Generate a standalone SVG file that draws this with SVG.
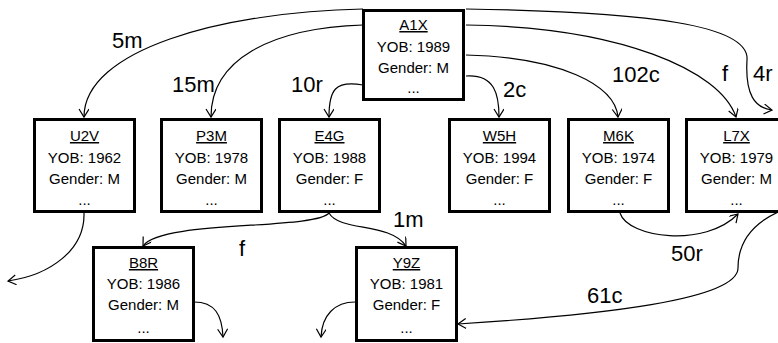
<svg xmlns="http://www.w3.org/2000/svg" width="778" height="343" viewBox="0 0 778 343">
<style>
.box{fill:#fff;stroke:#000;stroke-width:3}
.t{font-family:"Liberation Sans",Arial,sans-serif;font-size:15px;fill:#000;text-anchor:middle}
.n{text-decoration:underline}
.e{fill:none;stroke:#000;stroke-width:1.2;marker-end:url(#ah)}
.l{font-family:"Liberation Sans",Arial,sans-serif;font-size:22px;fill:#000}
</style>
<defs>
<marker id="ah" markerWidth="12" markerHeight="12" refX="9" refY="5" orient="auto" markerUnits="userSpaceOnUse">
<path d="M1,0 L9,5 L1,10" fill="none" stroke="#000" stroke-width="1.2"/>
</marker>
</defs>
<rect width="778" height="343" fill="#fff"/>
<g id="connectors">
<path class="e" d="M363,9 C220,12 84,50 84,117"/>
<path class="e" d="M363,25 C270,28 211,60 211,117"/>
<path class="e" d="M363,85 C335,80 329,90 329,117"/>
<path class="e" d="M466,76 C495,74 499,95 499,117"/>
<path class="e" d="M466,55 C560,57 615,85 618,117"/>
<path class="e" d="M466,25 C620,27 720,70 736,117"/>
<path class="e" d="M466,9 C650,12 750,25 747,60 C745,95 755,108 772,110"/>
<path class="e" d="M329,213 C315,230 160,220 143,246"/>
<path class="e" d="M329,213 C340,232 390,222 406,246"/>
<path class="e" d="M84,213 C85,250 50,275 8,281"/>
<path class="e" d="M194,302 C215,302 222,315 223,337"/>
<path class="e" d="M355,302 C335,302 322,315 321,337"/>
<path class="e" d="M620,213 C628,238 705,248 738,214"/>
<path class="e" d="M778,212 C750,225 738,245 738,268 C738,300 600,315 458,324"/>
</g>
<g id="labels">
<text class="l" x="112" y="48">5m</text>
<text class="l" x="172" y="92">15m</text>
<text class="l" x="291" y="92">10r</text>
<text class="l" x="503" y="97">2c</text>
<text class="l" x="612" y="82">102c</text>
<text class="l" x="722" y="81">f</text>
<text class="l" x="753" y="81">4r</text>
<text class="l" x="239" y="256">f</text>
<text class="l" x="393" y="227">1m</text>
<text class="l" x="671" y="261">50r</text>
<text class="l" x="587" y="303">61c</text>
</g>
<g id="A1X">
<rect class="box" x="363.5" y="10.5" width="100" height="89"/>
<text class="t n" x="413.5" y="30">A1X</text>
<text class="t" x="413.5" y="52">YOB: 1989</text>
<text class="t" x="413.5" y="73">Gender: M</text>
<text class="t" x="413.5" y="93">...</text>
</g>
<g id="U2V">
<rect class="box" x="34.5" y="119.5" width="100" height="92"/>
<text class="t n" x="84.5" y="141">U2V</text>
<text class="t" x="84.5" y="163">YOB: 1962</text>
<text class="t" x="84.5" y="184">Gender: M</text>
<text class="t" x="84.5" y="205">...</text>
</g>
<g id="P3M">
<rect class="box" x="161.5" y="119.5" width="100" height="92"/>
<text class="t n" x="211.5" y="141">P3M</text>
<text class="t" x="211.5" y="163">YOB: 1978</text>
<text class="t" x="211.5" y="184">Gender: M</text>
<text class="t" x="211.5" y="205">...</text>
</g>
<g id="E4G">
<rect class="box" x="279.5" y="119.5" width="100" height="92"/>
<text class="t n" x="329.5" y="141">E4G</text>
<text class="t" x="329.5" y="163">YOB: 1988</text>
<text class="t" x="329.5" y="184">Gender: F</text>
<text class="t" x="329.5" y="205">...</text>
</g>
<g id="W5H">
<rect class="box" x="449.5" y="119.5" width="100" height="92"/>
<text class="t n" x="499.5" y="141">W5H</text>
<text class="t" x="499.5" y="163">YOB: 1994</text>
<text class="t" x="499.5" y="184">Gender: F</text>
<text class="t" x="499.5" y="205">...</text>
</g>
<g id="M6K">
<rect class="box" x="568.5" y="119.5" width="100" height="92"/>
<text class="t n" x="618.5" y="141">M6K</text>
<text class="t" x="618.5" y="163">YOB: 1974</text>
<text class="t" x="618.5" y="184">Gender: F</text>
<text class="t" x="618.5" y="205">...</text>
</g>
<g id="L7X">
<rect class="box" x="686.5" y="119.5" width="100" height="92"/>
<text class="t n" x="736.5" y="141">L7X</text>
<text class="t" x="736.5" y="163">YOB: 1979</text>
<text class="t" x="736.5" y="184">Gender: M</text>
<text class="t" x="736.5" y="205">...</text>
</g>
<g id="B8R">
<rect class="box" x="93.5" y="247.5" width="100" height="93"/>
<text class="t n" x="143.5" y="268">B8R</text>
<text class="t" x="143.5" y="289">YOB: 1986</text>
<text class="t" x="143.5" y="310">Gender: M</text>
<text class="t" x="143.5" y="333">...</text>
</g>
<g id="Y9Z">
<rect class="box" x="356.5" y="247.5" width="100" height="93"/>
<text class="t n" x="406.5" y="268">Y9Z</text>
<text class="t" x="406.5" y="289">YOB: 1981</text>
<text class="t" x="406.5" y="310">Gender: F</text>
<text class="t" x="406.5" y="333">...</text>
</g>
</svg>
